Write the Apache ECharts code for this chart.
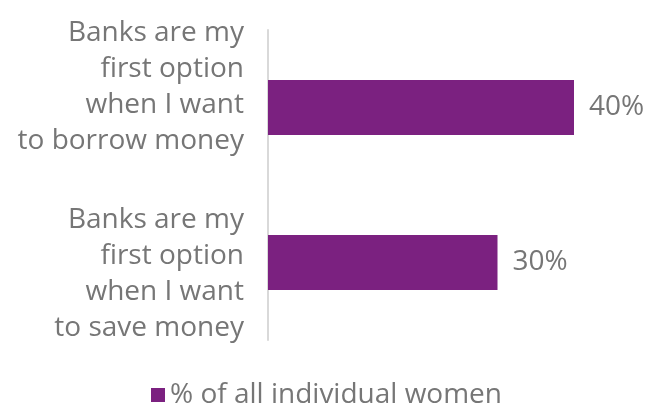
<!DOCTYPE html>
<html>
<head>
<meta charset="utf-8">
<script src="https://cdn.jsdelivr.net/npm/echarts@6/dist/echarts.min.js"></script>
<style>
  html, body { margin: 0; padding: 0; background: #fff; }
  #main { width: 653px; height: 410px; }
</style>
</head>
<body>
<div id="main"></div>
<script>
// data
const categories = [
    'Banks are my\nfirst option\nwhen I want\nto save money',
    'Banks are my\nfirst option\nwhen I want\nto borrow money'
];
const values = [30, 40];
const seriesName = '% of all individual women';

const purple = '#7b2180';
const grey = '#767676';
const font = 'Open Sans';

var myChart = echarts.init(document.getElementById('main'));

// nudge labels up/down a little like in the original layout
function catLabel(v, i) {
    let lines = v.split('\n').map(l => '{a|' + l + '}');
    if (i === 0) lines.unshift('{p0| }');
    else lines.push('{p1| }');
    return lines.join('\n');
}

var option = {
    animation: false,
    textStyle: { fontFamily: font },
    grid: { left: 268, top: 30, width: 382.5, height: 310, containLabel: false },
    legend: {
        top: 376,
        left: 'center',
        itemWidth: 14,
        itemHeight: 14,
        itemGap: 8,
        icon: 'rect',
        textStyle: { color: grey, fontSize: 28, fontFamily: font },
        data: [seriesName]
    },
    xAxis: {
        type: 'value',
        min: 0,
        max: 50,
        show: false
    },
    yAxis: {
        type: 'category',
        data: categories,
        axisLine: { show: true, lineStyle: { color: '#d9d9d9', width: 2 } },
        axisTick: { show: false },
        axisLabel: {
            interval: 0,
            margin: 24,
            align: 'right',
            formatter: catLabel,
            rich: {
                a: { color: grey, fontSize: 28, lineHeight: 36, fontFamily: font, align: 'right' },
                p0: { fontSize: 10, lineHeight: 24 },
                p1: { fontSize: 10, lineHeight: 40 }
            }
        }
    },
    series: [
        {
            name: seriesName,
            type: 'bar',
            barWidth: 55,
            itemStyle: { color: purple },
            label: {
                show: true,
                position: 'right',
                distance: 15,
                color: grey,
                fontSize: 28,
                formatter: '{c}%'
            },
            data: values
        }
    ]
};

myChart.setOption(option);
</script>
</body>
</html>
